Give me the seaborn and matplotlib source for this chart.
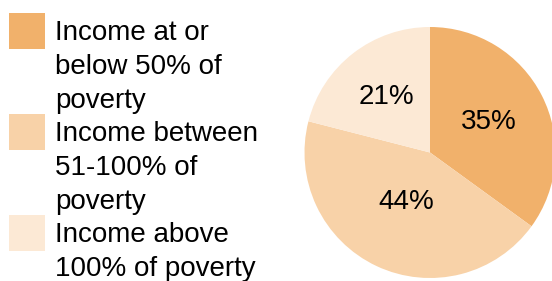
import numpy as np
import matplotlib
matplotlib.use("Agg")
import matplotlib.pyplot as plt
import seaborn as sns
from matplotlib.patches import Rectangle

# slices, clockwise from the top
categories = ['Income at or\nbelow 50% of\npoverty',
              'Income between\n51-100% of\npoverty',
              'Income above\n100% of poverty']
shares = [35, 44, 21]
colors = ['#F1B16B', '#F8D2A8', '#FCE9D5']
# where each % label sits, as a fraction of the radius
label_radius = [0.53, 0.44, 0.56]

sns.set_theme(style='white')
plt.rcParams['font.family'] = ['Liberation Sans', 'DejaVu Sans']

W, H = 552, 281
fig = plt.figure(figsize=(W / 100, H / 100), dpi=100)
fig.patch.set_facecolor('white')

# pie axes, square in pixels so the circle stays round
ax = fig.add_axes([304.5 / W, 3 / H, 251 / W, 251 / H])
wedges, _ = ax.pie(shares, colors=colors, startangle=90, counterclock=False,
                   wedgeprops=dict(linewidth=0))
ax.set_xlim(-1, 1)
ax.set_ylim(-1, 1)
ax.axis('off')

for w, r, v in zip(wedges, label_radius, shares):
    mid = np.deg2rad((w.theta1 + w.theta2) / 2)
    ax.text(r * np.cos(mid), r * np.sin(mid), f'{v}%', ha='center',
            va='center', fontsize=20, color='black')

# legend drawn by hand: square at the first line of each entry
for i, (lab, col) in enumerate(zip(categories, colors)):
    top = 13 + i * 101
    fig.add_artist(Rectangle((9 / W, 1 - (top + 36) / H), 36 / W, 36 / H,
                             transform=fig.transFigure, facecolor=col,
                             edgecolor='none'))
    fig.text(55 / W, 1 - (top + 7) / H, lab, ha='left', va='top',
             fontsize=20, linespacing=1.39, color='black')

fig.savefig('out.png', dpi=100)
